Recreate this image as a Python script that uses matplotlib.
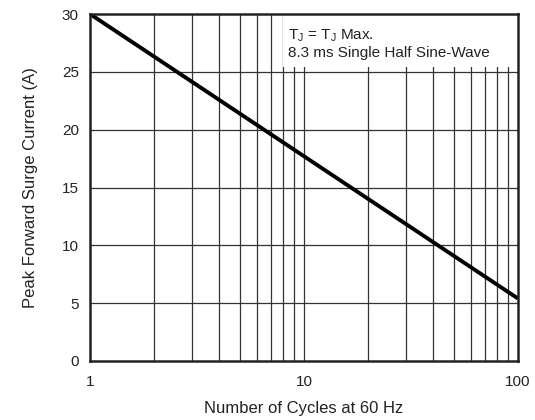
import matplotlib
matplotlib.use('Agg')
import matplotlib.pyplot as plt
import numpy as np

plt.rcParams['font.family'] = ['Liberation Sans', 'DejaVu Sans']

# 数据
cycles = [1, 100]
current = [30, 5.4]
y_ticks = [0, 5, 10, 15, 20, 25, 30]
x_ticks = [1, 10, 100]
x_tick_labels = ['1', '10', '100']

fig = plt.figure(figsize=(5.35, 4.2), dpi=100)
ax = fig.add_axes([90 / 535, 1 - 361 / 420, 428 / 535, 347 / 420])

ax.set_xscale('log')
ax.set_xlim(1, 100)
ax.set_ylim(0, 30)

# 网格
minor = [k * d for d in (1, 10) for k in range(2, 10)]
for xv in minor:
    ax.axvline(xv, color='#333333', lw=0.9, zorder=1)
for yv in y_ticks[1:-1]:
    ax.axhline(yv, color='#333333', lw=0.9, zorder=1)
ax.axvline(10, color='#333333', lw=0.9, zorder=1)

ax.plot(cycles, current, color='black', lw=2.8, solid_capstyle='butt', zorder=3)

ax.set_xticks(x_ticks)
ax.set_xticklabels(x_tick_labels)
ax.xaxis.set_minor_locator(matplotlib.ticker.NullLocator())
ax.set_yticks(y_ticks)
ax.tick_params(length=0, labelsize=11, colors='#222222', pad=8)
ax.tick_params(axis='x', pad=10)

for s in ax.spines.values():
    s.set_linewidth(1.8)
    s.set_color('#222222')
    s.set_zorder(4)

ax.set_xlabel('Number of Cycles at 60 Hz', fontsize=12, color='#222222', labelpad=9)
ax.set_ylabel('Peak Forward Surge Current (A)', fontsize=12, color='#222222', labelpad=17)

# 文字框（白底）
ax.add_patch(plt.Rectangle((0.451, 0.847), 0.549, 0.153, transform=ax.transAxes,
                           fc='white', ec='none', zorder=2))
ax.text(0.462, 0.962, r'T$_\mathregular{J}$ = T$_\mathregular{J}$ Max.' + '\n8.3 ms Single Half Sine-Wave',
        transform=ax.transAxes, ha='left', va='top', fontsize=11, color='#222222',
        linespacing=1.2, zorder=5)

fig.savefig('out.png', dpi=100)
